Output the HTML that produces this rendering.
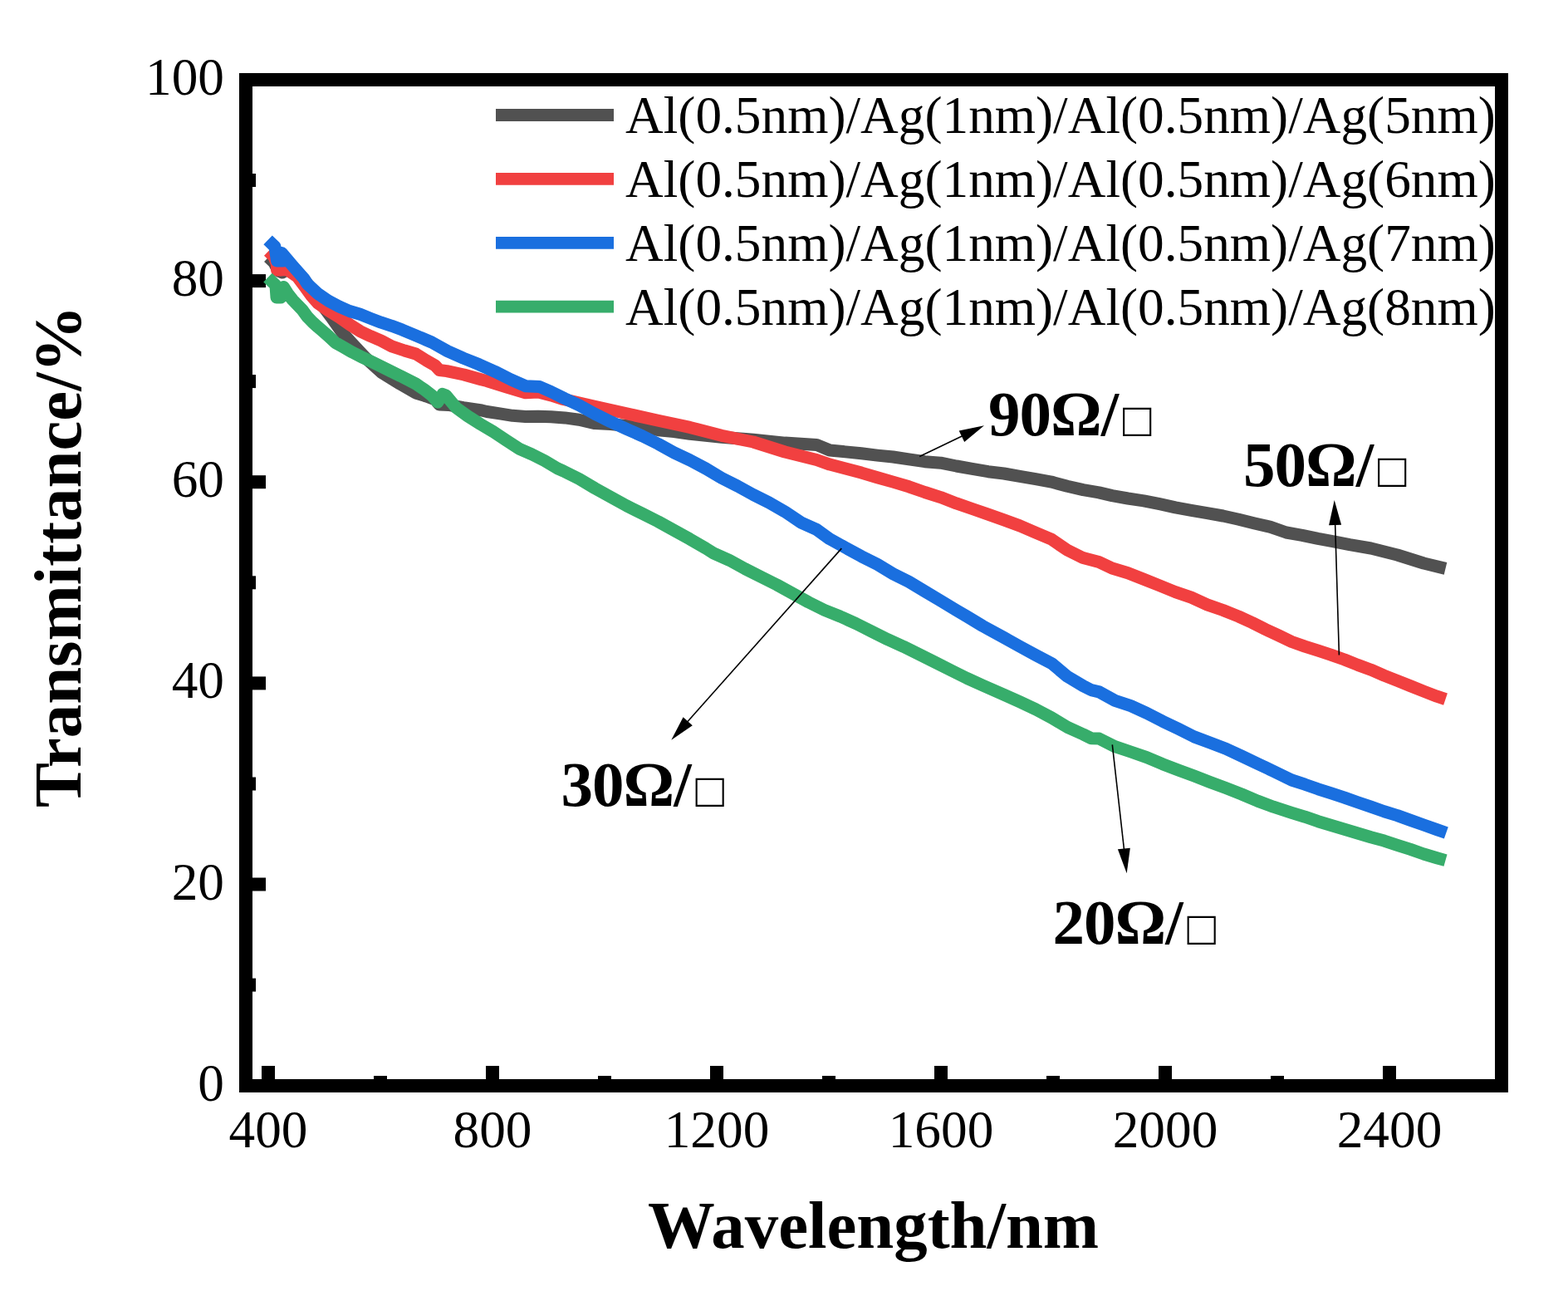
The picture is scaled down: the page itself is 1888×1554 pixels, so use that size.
<!DOCTYPE html>
<html><head><meta charset="utf-8"><title>Transmittance</title>
<style>html,body{margin:0;padding:0;background:#fff;overflow:hidden}svg{display:block}text{font-family:"Liberation Serif","Times New Roman",serif;fill:#000}.b{font-weight:bold}.sq{font-weight:normal}</style></head><body>
<svg width="1888" height="1554" viewBox="0 0 1888 1554">
<rect width="1888" height="1554" fill="#fff"/>
<rect x="296" y="96" width="1512" height="1211" fill="none" stroke="#000" stroke-width="16"/>
<line x1="323.0" y1="1299" x2="323.0" y2="1283" stroke="#000" stroke-width="16"/>
<line x1="458.0" y1="1299" x2="458.0" y2="1295" stroke="#000" stroke-width="16"/>
<line x1="593.0" y1="1299" x2="593.0" y2="1283" stroke="#000" stroke-width="16"/>
<line x1="728.0" y1="1299" x2="728.0" y2="1295" stroke="#000" stroke-width="16"/>
<line x1="863.0" y1="1299" x2="863.0" y2="1283" stroke="#000" stroke-width="16"/>
<line x1="998.0" y1="1299" x2="998.0" y2="1295" stroke="#000" stroke-width="16"/>
<line x1="1133.0" y1="1299" x2="1133.0" y2="1283" stroke="#000" stroke-width="16"/>
<line x1="1268.0" y1="1299" x2="1268.0" y2="1295" stroke="#000" stroke-width="16"/>
<line x1="1403.0" y1="1299" x2="1403.0" y2="1283" stroke="#000" stroke-width="16"/>
<line x1="1538.0" y1="1299" x2="1538.0" y2="1295" stroke="#000" stroke-width="16"/>
<line x1="1673.0" y1="1299" x2="1673.0" y2="1283" stroke="#000" stroke-width="16"/>
<line x1="304" y1="1185.6" x2="308" y2="1185.6" stroke="#000" stroke-width="16"/>
<line x1="304" y1="1064.5" x2="320" y2="1064.5" stroke="#000" stroke-width="16"/>
<line x1="304" y1="943.5" x2="308" y2="943.5" stroke="#000" stroke-width="16"/>
<line x1="304" y1="822.4" x2="320" y2="822.4" stroke="#000" stroke-width="16"/>
<line x1="304" y1="701.3" x2="308" y2="701.3" stroke="#000" stroke-width="16"/>
<line x1="304" y1="580.2" x2="320" y2="580.2" stroke="#000" stroke-width="16"/>
<line x1="304" y1="459.1" x2="308" y2="459.1" stroke="#000" stroke-width="16"/>
<line x1="304" y1="338.1" x2="320" y2="338.1" stroke="#000" stroke-width="16"/>
<line x1="304" y1="217.0" x2="308" y2="217.0" stroke="#000" stroke-width="16"/>
<path d="M323.2,309.6 L330.0,316.0 L335.0,326.0 L340.0,328.0 L347.0,323.5 L353.0,322.3 L366.4,336.7 L378.0,352.0 L389.1,368.7 L398.6,381.4 L411.0,399.0 L423.1,412.5 L440.5,431.1 L459.0,448.0 L481.6,462.0 L500.7,473.0 L513.5,477.0 L524.0,481.0 L529.0,487.0 L540.0,487.4 L557.9,490.6 L580.0,494.0 L586.3,495.5 L601.8,497.8 L617.2,500.3 L632.7,501.5 L648.1,501.3 L663.6,501.7 L680.0,502.9 L697.2,505.3 L716.3,509.6 L735.3,510.6 L754.4,512.5 L773.5,514.8 L792.6,517.7 L811.6,519.6 L830.7,522.4 L849.8,524.3 L868.8,526.2 L907.0,529.3 L945.1,533.1 L983.2,535.4 L999.1,542.0 L1018.1,543.9 L1037.2,545.8 L1056.3,548.1 L1075.3,550.0 L1094.4,552.8 L1113.5,555.7 L1132.6,557.2 L1151.6,561.0 L1170.7,564.3 L1189.8,567.7 L1208.8,570.0 L1227.9,573.4 L1247.0,576.7 L1266.0,580.1 L1285.1,585.3 L1304.2,589.6 L1323.2,592.9 L1339.1,596.6 L1358.1,600.0 L1377.2,602.9 L1396.3,606.7 L1415.3,610.9 L1434.4,614.3 L1453.5,617.6 L1472.6,621.0 L1491.6,625.2 L1510.7,630.0 L1529.8,634.4 L1548.8,641.0 L1567.9,644.3 L1587.0,648.4 L1606.0,651.9 L1625.1,655.7 L1650.7,660.0 L1682.5,668.0 L1714.3,678.0 L1740.5,684.4" fill="none" stroke="#515151" stroke-width="15" stroke-linejoin="round" stroke-linecap="butt"/>
<path d="M323.2,302.4 L330.0,309.0 L333.5,318.0 L333.5,325.0 L338.0,325.0 L345.3,324.4 L358.0,333.0 L367.0,345.0 L375.0,356.0 L382.7,364.9 L395.4,373.8 L408.1,381.7 L420.9,390.7 L433.6,398.7 L446.3,404.7 L459.0,410.1 L471.7,416.9 L487.1,422.0 L500.7,426.0 L513.5,434.0 L524.0,440.0 L529.0,445.5 L538.0,446.6 L558.6,451.0 L580.0,457.0 L586.3,458.5 L609.5,465.9 L632.7,472.8 L648.1,472.0 L663.6,475.9 L678.1,480.5 L716.3,489.2 L754.4,497.8 L792.6,506.2 L830.7,514.4 L868.8,524.3 L907.0,532.0 L945.1,544.0 L983.2,553.5 L999.1,559.1 L1018.1,563.9 L1037.2,569.1 L1056.3,574.8 L1075.3,580.1 L1094.4,585.8 L1113.5,592.5 L1132.6,598.6 L1151.6,605.9 L1170.7,612.5 L1189.8,619.2 L1208.8,625.9 L1227.9,632.9 L1247.0,641.1 L1266.0,649.1 L1285.1,662.1 L1304.2,671.6 L1323.2,676.4 L1339.1,684.0 L1358.1,689.7 L1377.2,697.3 L1396.3,704.9 L1415.3,712.6 L1434.4,719.2 L1453.5,727.8 L1472.6,734.5 L1491.6,742.1 L1507.7,749.5 L1523.6,757.5 L1539.5,764.9 L1555.3,772.5 L1571.2,778.1 L1587.1,783.2 L1603.0,788.4 L1618.9,794.0 L1634.8,800.4 L1650.7,806.2 L1666.6,813.1 L1682.5,819.4 L1698.4,825.8 L1714.3,832.1 L1730.1,838.2 L1740.5,841.7" fill="none" stroke="#F14040" stroke-width="15" stroke-linejoin="round" stroke-linecap="butt"/>
<path d="M322.6,288.9 L331.0,297.0 L333.5,314.0 L341.0,314.0 L339.3,304.5 L352.0,319.5 L366.0,335.4 L370.0,341.8 L382.7,353.5 L395.4,362.1 L408.1,368.8 L420.9,374.5 L433.6,378.3 L446.3,383.4 L459.0,388.2 L471.7,392.3 L484.4,397.1 L500.7,403.9 L519.8,412.0 L538.8,422.6 L557.9,431.1 L577.0,438.8 L596.0,447.3 L615.1,456.9 L632.7,464.7 L649.7,465.5 L663.6,471.6 L680.0,479.8 L697.2,487.7 L716.3,498.2 L735.3,507.7 L754.4,516.3 L773.5,524.9 L792.6,534.4 L811.6,544.9 L830.7,553.9 L849.8,564.0 L868.8,575.4 L887.9,585.0 L907.0,595.5 L926.0,605.0 L945.1,615.9 L964.2,628.8 L983.2,637.4 L999.1,648.8 L1018.1,659.3 L1037.2,669.7 L1056.3,679.3 L1075.3,690.7 L1094.4,700.3 L1113.5,711.7 L1132.6,723.1 L1151.6,734.6 L1164.2,742.0 L1183.2,753.5 L1209.1,767.7 L1228.1,778.2 L1247.2,788.6 L1266.3,798.6 L1285.3,814.4 L1304.4,825.8 L1314.0,830.6 L1323.5,832.9 L1342.6,843.4 L1361.6,849.7 L1380.7,858.3 L1399.8,868.2 L1418.8,877.3 L1437.9,886.9 L1457.0,894.0 L1476.0,901.2 L1495.1,910.1 L1514.2,919.3 L1533.2,928.2 L1555.3,939.0 L1571.2,944.2 L1587.1,949.8 L1603.0,954.9 L1618.9,960.1 L1634.8,965.7 L1650.7,971.2 L1666.6,976.8 L1682.5,981.6 L1698.4,987.4 L1714.3,993.0 L1730.1,998.6 L1741.3,1002.5" fill="none" stroke="#1A6FDF" stroke-width="15" stroke-linejoin="round" stroke-linecap="butt"/>
<path d="M322.4,334.2 L332.0,343.4 L333.0,358.0 L338.0,358.0 L341.5,345.5 L346.6,353.5 L352.5,361.1 L364.0,373.0 L370.0,381.2 L376.4,387.9 L382.7,393.6 L389.1,399.0 L395.4,404.5 L403.7,412.4 L412.4,417.3 L424.0,423.9 L435.5,429.7 L447.1,435.3 L458.7,441.0 L470.3,446.8 L481.9,452.4 L500.7,462.0 L511.0,469.0 L520.0,476.0 L527.0,484.0 L533.0,474.5 L537.0,476.0 L549.5,491.0 L563.2,500.9 L578.6,510.6 L594.1,519.8 L609.5,529.9 L624.9,540.1 L640.4,546.9 L655.8,554.6 L671.3,563.9 L678.1,566.9 L697.2,576.4 L716.3,587.8 L735.3,598.3 L754.4,608.8 L773.5,618.3 L792.6,627.9 L811.6,638.4 L830.7,648.9 L849.8,660.0 L859.1,665.8 L878.1,674.3 L897.2,684.8 L916.3,694.4 L935.3,703.9 L954.4,714.4 L973.5,724.9 L992.6,734.4 L1011.6,742.0 L1030.7,750.6 L1049.8,760.2 L1068.8,769.7 L1087.9,778.3 L1107.0,787.8 L1126.0,797.3 L1145.1,806.9 L1164.2,816.4 L1183.2,825.0 L1209.1,836.3 L1228.1,844.9 L1247.2,853.9 L1266.3,864.0 L1285.3,875.4 L1304.4,884.0 L1314.0,888.8 L1323.5,889.1 L1342.6,898.7 L1361.6,905.0 L1380.7,911.6 L1399.8,919.7 L1418.8,926.9 L1437.9,934.0 L1457.0,941.5 L1476.0,948.5 L1495.1,956.0 L1514.2,964.1 L1533.2,971.2 L1555.3,978.4 L1571.2,983.2 L1587.1,988.7 L1603.0,993.5 L1618.9,998.2 L1634.8,1003.0 L1650.7,1007.8 L1666.6,1012.1 L1682.5,1017.3 L1698.4,1022.4 L1714.3,1028.0 L1730.1,1032.7 L1740.5,1035.6" fill="none" stroke="#37AD6B" stroke-width="15" stroke-linejoin="round" stroke-linecap="butt"/>
<text x="270" y="1324.7" font-size="63.3" text-anchor="end">0</text>
<text x="270" y="1082.5" font-size="63.3" text-anchor="end">20</text>
<text x="270" y="840.4" font-size="63.3" text-anchor="end">40</text>
<text x="270" y="598.2" font-size="63.3" text-anchor="end">60</text>
<text x="270" y="356.1" font-size="63.3" text-anchor="end">80</text>
<text x="270" y="113.9" font-size="63.3" text-anchor="end">100</text>
<text x="323.0" y="1380.7" font-size="63.3" text-anchor="middle">400</text>
<text x="593.0" y="1380.7" font-size="63.3" text-anchor="middle">800</text>
<text x="863.0" y="1380.7" font-size="63.3" text-anchor="middle">1200</text>
<text x="1133.0" y="1380.7" font-size="63.3" text-anchor="middle">1600</text>
<text x="1403.0" y="1380.7" font-size="63.3" text-anchor="middle">2000</text>
<text x="1673.0" y="1380.7" font-size="63.3" text-anchor="middle">2400</text>
<text class="b" x="780" y="1502" font-size="80.8">Wavelength/nm</text>
<text class="b" transform="translate(97,972) rotate(-90)" x="0" y="0" font-size="80.8">Transmittance/%</text>
<line x1="597" y1="138.5" x2="739" y2="138.5" stroke="#515151" stroke-width="14.8"/>
<text x="753" y="159.9" font-size="63.3">Al(0.5nm)/Ag(1nm)/Al(0.5nm)/Ag(5nm)</text>
<line x1="597" y1="215.4" x2="739" y2="215.4" stroke="#F14040" stroke-width="14.8"/>
<text x="753" y="236.8" font-size="63.3">Al(0.5nm)/Ag(1nm)/Al(0.5nm)/Ag(6nm)</text>
<line x1="597" y1="292.3" x2="739" y2="292.3" stroke="#1A6FDF" stroke-width="14.8"/>
<text x="753" y="313.7" font-size="63.3">Al(0.5nm)/Ag(1nm)/Al(0.5nm)/Ag(7nm)</text>
<line x1="597" y1="369.2" x2="739" y2="369.2" stroke="#37AD6B" stroke-width="14.8"/>
<text x="753" y="390.6" font-size="63.3">Al(0.5nm)/Ag(1nm)/Al(0.5nm)/Ag(8nm)</text>
<text class="b" x="1190" y="524.3" font-size="77" letter-spacing="-1">90Ω/<tspan class="sq" font-size="57.5" letter-spacing="0" dx="6" dy="1">□</tspan></text>
<text class="b" x="1497" y="585.3" font-size="77" letter-spacing="-1">50Ω/<tspan class="sq" font-size="57.5" letter-spacing="0" dx="6" dy="1">□</tspan></text>
<text class="b" x="675.5" y="969.8" font-size="77" letter-spacing="-1">30Ω/<tspan class="sq" font-size="57.5" letter-spacing="0" dx="6" dy="1">□</tspan></text>
<text class="b" x="1267.5" y="1135.8" font-size="77" letter-spacing="-1">20Ω/<tspan class="sq" font-size="57.5" letter-spacing="0" dx="6" dy="1">□</tspan></text>
<line x1="1107.2" y1="549.5" x2="1159.8" y2="524.3" stroke="#000" stroke-width="1.6"/><polygon points="1185.0,512.2 1161.2,531.9 1154.7,518.4" fill="#000"/>
<line x1="1612.4" y1="788.5" x2="1607.6" y2="630.0" stroke="#000" stroke-width="1.6"/><polygon points="1606.7,602.0 1615.1,631.8 1600.1,632.2" fill="#000"/>
<line x1="1013.3" y1="660.1" x2="826.9" y2="869.8" stroke="#000" stroke-width="1.6"/><polygon points="808.3,890.7 822.6,863.3 833.8,873.3" fill="#000"/>
<line x1="1339.3" y1="896.4" x2="1353.6" y2="1023.5" stroke="#000" stroke-width="1.6"/><polygon points="1356.7,1051.3 1345.9,1022.3 1360.8,1020.7" fill="#000"/>
</svg></body></html>
